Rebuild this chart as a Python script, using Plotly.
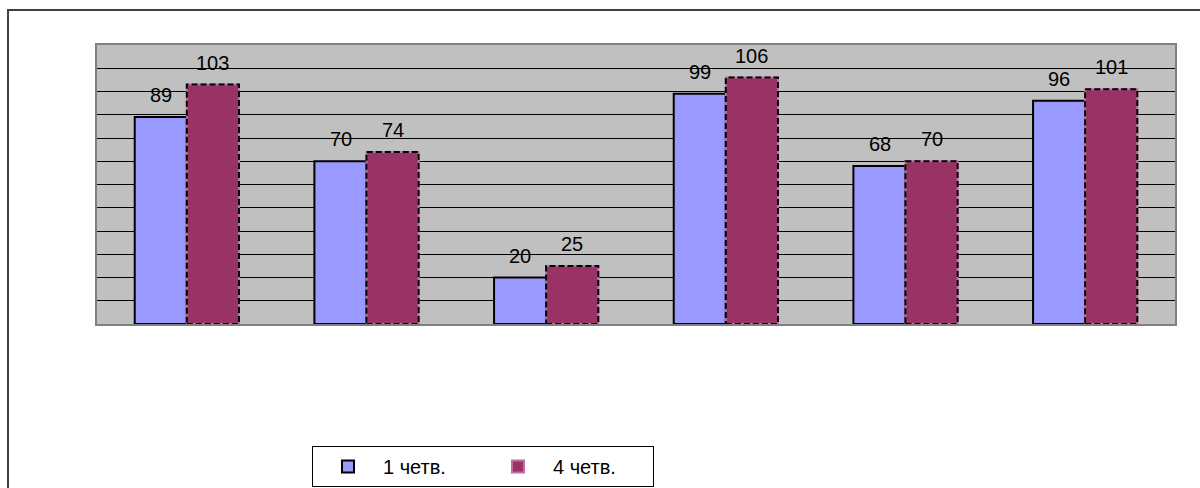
import plotly.graph_objects as go

categories = ["A", "B", "C", "D", "E", "F"]
q1_values = [89, 70, 20, 99, 68, 96]
q4_values = [103, 74, 25, 106, 70, 101]
series_names = ["1 четв.", "4 четв."]

BARGAP = 0.42
bar_w = (1 - BARGAP) / 2

W, H = 1200, 488
ML, MR, MT, MB = 97, 25, 45, 164
PW = W - ML - MR
PH = H - MT - MB

fig = go.Figure()
fig.add_trace(go.Bar(
    x=categories, y=q1_values, name=series_names[0],
    marker=dict(color="#9999FF", line=dict(color="#000000", width=2)),
))
fig.add_trace(go.Bar(
    x=categories, y=q4_values, name=series_names[1],
    marker=dict(color="#993366", line=dict(color="#C070A0", width=2)),
))

annotations = []
for i, c in enumerate(categories):
    for vals, shift in ((q1_values, -26), (q4_values, 26)):
        annotations.append(dict(
            x=c, y=vals[i], xref="x", yref="y", text=str(vals[i]),
            showarrow=False, xshift=shift, yshift=9, yanchor="bottom",
            font=dict(family="Arial, Liberation Sans", size=20, color="#000000"),
        ))

shapes = [dict(type="rect", xref="paper", yref="paper",
               x0=(8 - ML) / PW, x1=(W + 20 - ML) / PW,
               y0=1 - (H + 20 - MT) / PH, y1=1 + (MT - 10) / PH,
               line=dict(color="#404040", width=2), fillcolor="rgba(0,0,0,0)",
               layer="below")]
for i, v in enumerate(q4_values):
    shapes.append(dict(type="rect", xref="x", yref="y",
                       x0=i, x1=i + bar_w, y0=0, y1=v,
                       line=dict(color="#000000", width=2, dash="6px,3px"),
                       fillcolor="rgba(0,0,0,0)", layer="above"))

fig.update_layout(
    width=W, height=H,
    margin=dict(l=ML, r=MR, t=MT, b=MB, autoexpand=False),
    paper_bgcolor="#FFFFFF",
    plot_bgcolor="#C0C0C0",
    barmode="group",
    bargap=BARGAP,
    bargroupgap=0,
    showlegend=True,
    legend=dict(
        orientation="h", x=(312 - ML) / PW, y=1 - (446 - MT) / PH,
        xanchor="left", yanchor="top",
        bgcolor="#FFFFFF", bordercolor="#000000", borderwidth=1,
        font=dict(family="Arial, Liberation Sans", size=20, color="#000000"),
        entrywidth=95, itemwidth=60,
    ),
    annotations=annotations,
    shapes=shapes,
    xaxis=dict(showticklabels=False, showgrid=False, zeroline=False,
               showline=True, linecolor="#808080", linewidth=2, mirror=True,
               ticks=""),
    yaxis=dict(range=[0, 120], dtick=10, showticklabels=False,
               showgrid=True, gridcolor="#000000", gridwidth=1,
               zeroline=False, showline=True, linecolor="#808080",
               linewidth=2, mirror=True, ticks=""),
)

fig.write_html("out.html", config={"displayModeBar": False},
               post_script="document.body.style.margin='0';document.body.style.overflow='hidden';")
